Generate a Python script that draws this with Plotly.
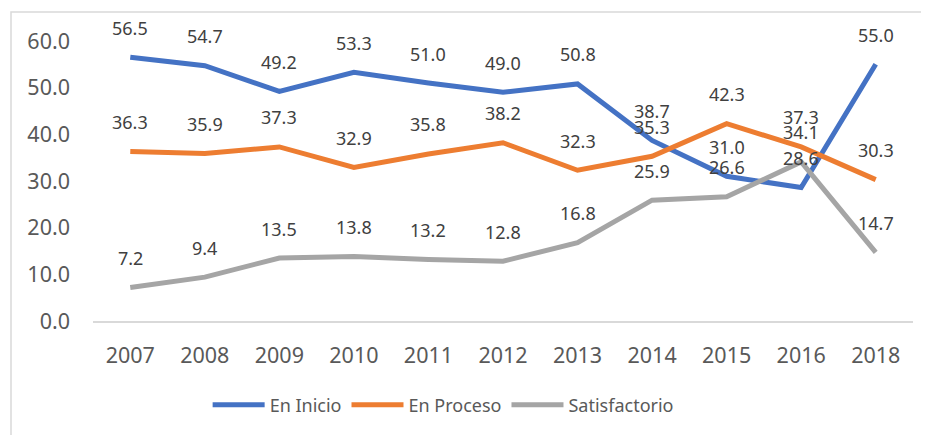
import plotly.graph_objects as go

years = ["2007", "2008", "2009", "2010", "2011", "2012", "2013", "2014", "2015", "2016", "2018"]
en_inicio = [56.5, 54.7, 49.2, 53.3, 51.0, 49.0, 50.8, 38.7, 31.0, 28.6, 55.0]
en_proceso = [36.3, 35.9, 37.3, 32.9, 35.8, 38.2, 32.3, 35.3, 42.3, 37.3, 30.3]
satisfactorio = [7.2, 9.4, 13.5, 13.8, 13.2, 12.8, 16.8, 25.9, 26.6, 34.1, 14.7]
y_ticks = [0, 10, 20, 30, 40, 50, 60]

series = [
    ("En Inicio", en_inicio, "#4472C4"),
    ("En Proceso", en_proceso, "#ED7D31"),
    ("Satisfactorio", satisfactorio, "#A5A5A5"),
]

FONT = "Noto Sans"

fig = go.Figure()
annotations = []
for name, vals, color in series:
    fig.add_trace(go.Scatter(
        x=years, y=vals, name=name, mode="lines",
        line=dict(color=color, width=5),
        cliponaxis=False,
    ))
    for i, v in enumerate(vals):
        annotations.append(dict(
            x=i, y=v, xref="x", yref="y", text=f"{v:.1f}",
            showarrow=False, yshift=29.5,
            font=dict(family=FONT, size=18, color="#404040"),
        ))

# page body has an 8px margin, so the figure is offset by 8px
fig.update_layout(
    width=921, height=427,
    margin=dict(l=85, r=16, t=33, b=114),
    paper_bgcolor="white", plot_bgcolor="white",
    font=dict(family=FONT, color="#595959"),
    annotations=annotations,
    showlegend=True,
    legend=dict(
        orientation="h", x=0.427, xanchor="center", y=-0.30, yanchor="middle",
        font=dict(family=FONT, size=18, color="#595959"),
        itemwidth=52,
    ),
    xaxis=dict(
        type="category", range=[-0.5, 10.5],
        showgrid=False, showline=True, linecolor="#D9D9D9", linewidth=1.5,
        ticks="", ticklabelstandoff=14,
        tickfont=dict(family=FONT, size=21.5, color="#595959"),
        zeroline=False,
    ),
    yaxis=dict(
        range=[0, 60], tickvals=y_ticks, ticktext=[f"{t:.1f}" for t in y_ticks],
        showgrid=False, showline=False, zeroline=False, ticks="",
        ticklabelstandoff=22,
        tickfont=dict(family=FONT, size=21.5, color="#595959"),
    ),
    shapes=[dict(
        type="rect", xref="paper", yref="paper",
        x0=(3 - 85) / 820, x1=(930 - 85) / 820,
        y0=(313 - 440) / 280, y1=(313 - 4) / 280,
        line=dict(color="#D9D9D9", width=1.5), fillcolor="rgba(0,0,0,0)",
        layer="below",
    )],
)

fig.write_html("out.html")
